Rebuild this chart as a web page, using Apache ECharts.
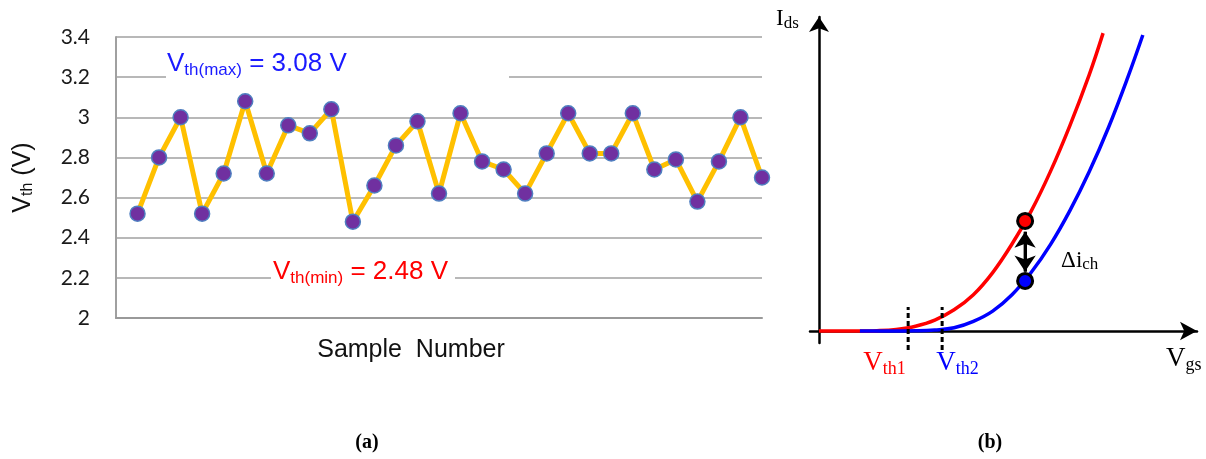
<!DOCTYPE html>
<html>
<head>
<meta charset="utf-8">
<title>Threshold voltage variation</title>
<script src="https://cdn.jsdelivr.net/npm/echarts@6/dist/echarts.min.js"></script>
<style>
  html, body { margin: 0; padding: 0; background: #fff; }
  #chart { width: 1206px; height: 459px; }
</style>
</head>
<body>
<div id="chart"></div>
<script>
// ---- (a) measured threshold voltage per sample ----
const sampleNo = [1, 2, 3, 4, 5, 6, 7, 8, 9, 10, 11, 12, 13, 14, 15,
                  16, 17, 18, 19, 20, 21, 22, 23, 24, 25, 26, 27, 28, 29, 30];
const vth = [2.52, 2.80, 3.00, 2.52, 2.72, 3.08, 2.72, 2.96, 2.92, 3.04,
             2.48, 2.66, 2.86, 2.98, 2.62, 3.02, 2.78, 2.74, 2.62, 2.82,
             3.02, 2.82, 2.82, 3.02, 2.74, 2.79, 2.58, 2.78, 3.00, 2.70];
const vthTicks = [2, 2.2, 2.4, 2.6, 2.8, 3, 3.2, 3.4];

// ---- (b) schematic Ids-Vgs curves for two threshold voltages ----
const vgsRed  = [0, 1, 1.5, 2, 2.5, 3, 3.5, 4, 4.5, 5, 5.5, 6, 6.5, 7, 7.36];
const idsRed  = [0, 0, 0.01, 0.05, 0.15, 0.34, 0.66, 1.13, 1.82, 2.71, 3.74, 4.98, 6.40, 7.98, 9.28];
const vgsBlue = [1.06, 2, 2.5, 3, 3.5, 4, 4.5, 5, 5.5, 6, 6.5, 7, 7.5, 8, 8.39];
const idsBlue = [0, 0, 0.005, 0.03, 0.10, 0.30, 0.62, 1.13, 1.83, 2.70, 3.75, 4.96, 6.34, 7.90, 9.22];
const vthMarks = [2.31, 3.19];          // Vth1, Vth2 on the Vgs axis
const vthMarkSpan = [-0.59, 0.75];      // extent of the dotted threshold markers
const vgsOp = 5.34;                     // operating point
const idsOp = [3.43, 1.56];             // current on red / blue curve
const arrowTips = [3.09, 1.85];         // delta-i arrow ends

const SANS = '"Liberation Sans", Arial, sans-serif';
const SERIF = '"Liberation Serif", "Times New Roman", serif';
const GRIDGRAY = '#a0a0a0';

const zip = (xs, ys) => xs.map((x, i) => [x, ys[i]]);

const chart = echarts.init(document.getElementById('chart'), null, { renderer: 'canvas' });

const vmax = Math.max(...vth);
const vmin = Math.min(...vth);

const option = {
  animation: false,
  backgroundColor: '#fff',
  grid: [
    { left: 116, top: 37, width: 646, height: 281 },
    { left: 810, top: 17, width: 387, height: 326 }
  ],
  xAxis: [
    {
      gridIndex: 0, type: 'value', min: 0, max: sampleNo.length,
      name: 'Sample  Number', nameLocation: 'middle', nameGap: 20,
      nameTextStyle: { fontFamily: SANS, fontSize: 25, color: '#111', padding: [0, 56, 0, 0] },
      axisLine: { show: true, onZero: false, lineStyle: { color: '#999', width: 2 } },
      axisTick: { show: false }, axisLabel: { show: false }, splitLine: { show: false }
    },
    {
      gridIndex: 1, type: 'value', min: -0.233, max: 9.793,
      axisLine: { show: true, onZero: true, symbol: ['none', 'arrow'], symbolSize: [14, 17],
                  lineStyle: { color: '#000', width: 2.5 } },
      axisTick: { show: false }, axisLabel: { show: false }, splitLine: { show: false }
    }
  ],
  yAxis: [
    {
      gridIndex: 0, type: 'value',
      min: vthTicks[0], max: vthTicks[vthTicks.length - 1], interval: 0.2,
      name: '{v|V}{s|th}{v| (V)}', nameLocation: 'middle', nameGap: 80, nameRotate: 90,
      nameTextStyle: {
        rich: {
          v: { fontFamily: SANS, fontSize: 25, color: '#111' },
          s: { fontFamily: SANS, fontSize: 16, color: '#111', padding: [10, 0, 0, 0] }
        }
      },
      axisLine: { show: true, lineStyle: { color: GRIDGRAY, width: 2 } },
      axisTick: { show: false },
      axisLabel: { fontFamily: 'Lato, "Liberation Sans", sans-serif', fontSize: 21, color: '#1a1a1a', margin: 26 },
      splitLine: { show: true, lineStyle: { color: GRIDGRAY, width: 1.7 } }
    },
    {
      gridIndex: 1, type: 'value', min: -0.374, max: 9.782,
      axisLine: { show: true, onZero: true, symbol: ['none', 'arrow'], symbolSize: [15, 15],
                  lineStyle: { color: '#000', width: 2.5 } },
      axisTick: { show: false }, axisLabel: { show: false }, splitLine: { show: false }
    }
  ],
  series: [
    {
      type: 'line', xAxisIndex: 0, yAxisIndex: 0, z: 5,
      data: zip(sampleNo, vth),
      lineStyle: { color: '#FFC000', width: 5 },
      symbol: 'circle', symbolSize: 15,
      itemStyle: { color: '#7030A0', borderColor: '#4F7FC0', borderWidth: 1.5 }
    },
    {
      type: 'line', xAxisIndex: 1, yAxisIndex: 1, z: 3,
      data: zip(vgsRed, idsRed), smooth: 0.4,
      showSymbol: false, lineStyle: { color: '#ff0000', width: 3.5 }
    },
    {
      type: 'line', xAxisIndex: 1, yAxisIndex: 1, z: 4,
      data: zip(vgsBlue, idsBlue), smooth: 0.4,
      showSymbol: false, lineStyle: { color: '#0000ff', width: 3.5 }
    },
    ...vthMarks.map(v => ({
      type: 'line', xAxisIndex: 1, yAxisIndex: 1, z: 6, clip: false,
      data: [[v, vthMarkSpan[0]], [v, vthMarkSpan[1]]],
      showSymbol: false, symbol: 'none',
      lineStyle: { color: '#000', width: 3, type: [5, 3] }
    })),
    {
      type: 'line', xAxisIndex: 1, yAxisIndex: 1, z: 7,
      data: [[vgsOp, arrowTips[0]], [vgsOp, arrowTips[1]]],
      showSymbol: false, symbol: 'none',
      lineStyle: { color: '#000', width: 3 },
      markLine: {
        silent: true, symbol: ['arrow', 'arrow'], symbolSize: [16, 16],
        label: { show: false },
        lineStyle: { color: '#000', width: 3, type: 'solid' },
        data: [[{ coord: [vgsOp, arrowTips[0]] }, { coord: [vgsOp, arrowTips[1]] }]]
      }
    },
    {
      type: 'scatter', xAxisIndex: 1, yAxisIndex: 1, z: 8,
      data: [[vgsOp, idsOp[0]]], symbolSize: 15,
      itemStyle: { color: '#ff0000', borderColor: '#000', borderWidth: 3, opacity: 1 }
    },
    {
      type: 'scatter', xAxisIndex: 1, yAxisIndex: 1, z: 8,
      data: [[vgsOp, idsOp[1]]], symbolSize: 15,
      itemStyle: { color: '#0000ff', borderColor: '#000', borderWidth: 3, opacity: 1 }
    }
  ]
};

chart.setOption(option);

// Annotations placed from the axes' own scales
const pa = (x, y) => chart.convertToPixel({ gridIndex: 0 }, [x, y]);
const pb = (x, y) => chart.convertToPixel({ gridIndex: 1 }, [x, y]);

const yMaxLine = pa(0, 3.2)[1];
const yMinLine = pa(0, 2.2)[1];
const leftA = pa(0, 2)[0];

function subText(x, y, main, sub, tail, color, mainSize, subSize, family, subDrop) {
  return {
    type: 'text', x: x, y: y, z: 20,
    style: {
      text: '{v|' + main + '}{s|' + sub + '}' + (tail ? '{v|' + tail + '}' : ''),
      align: 'left', verticalAlign: 'middle',
      rich: {
        v: { fontFamily: family, fontSize: mainSize, fill: color },
        s: { fontFamily: family, fontSize: subSize, fill: color, padding: [subDrop, 0, 0, 0] }
      }
    }
  };
}

const maxTxt = '= ' + vmax.toFixed(2) + ' V';
const minTxt = '= ' + vmin.toFixed(2) + ' V';
const opPix = pb(vgsOp, (arrowTips[0] + arrowTips[1]) / 2);

chart.setOption({
  graphic: [
    // gaps in the 3.2 and 2.2 grid lines behind the extreme-value notes
    { type: 'rect', z: 1, shape: { x: leftA + 50, y: yMaxLine - 4, width: 343, height: 8 }, style: { fill: '#fff' } },
    { type: 'rect', z: 1, shape: { x: leftA + 155, y: yMinLine - 4, width: 184, height: 8 }, style: { fill: '#fff' } },
    subText(leftA + 51, yMaxLine - 13, 'V', 'th(max)', ' ' + maxTxt, '#1a1aff', 26, 17, SANS, 12),
    subText(leftA + 157, yMinLine - 6, 'V', 'th(min)', ' ' + minTxt, '#ff0000', 26, 17, SANS, 12),

    // labels of panel (b)
    subText(776, 19, 'I', 'ds', '', '#000', 23, 17, SERIF, 10),
    subText(1166, 359, 'V', 'gs', '', '#000', 27, 18, SERIF, 12),
    subText(pb(vthMarks[0], 0)[0] - 45, 363, 'V', 'th1', '', '#ff0000', 27, 18, SERIF, 12),
    subText(pb(vthMarks[1], 0)[0] - 6, 363, 'V', 'th2', '', '#0000ff', 27, 18, SERIF, 12),
    subText(opPix[0] + 36, opPix[1] + 9, '\u0394i', 'ch', '', '#000', 23, 17, SERIF, 8),

    // panel captions
    { type: 'text', x: 367, y: 443, z: 20,
      style: { text: '(a)', font: 'bold 20px ' + SERIF, fill: '#000', align: 'center', verticalAlign: 'middle' } },
    { type: 'text', x: 990, y: 443, z: 20,
      style: { text: '(b)', font: 'bold 20px ' + SERIF, fill: '#000', align: 'center', verticalAlign: 'middle' } }
  ]
});
</script>
</body>
</html>
